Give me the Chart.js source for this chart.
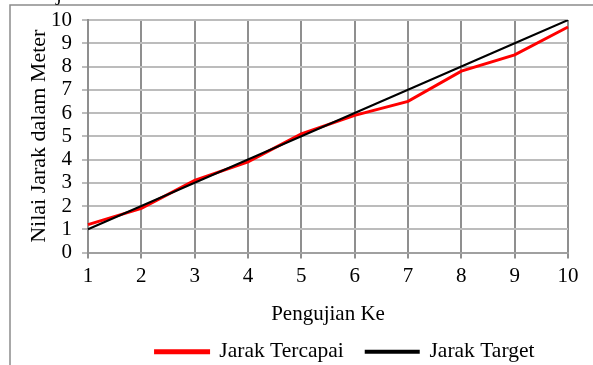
<!DOCTYPE html>
<html>
<head>
<meta charset="utf-8">
<script src="https://cdn.jsdelivr.net/npm/chart.js@4.4.0/dist/chart.umd.min.js"></script>
<style>
    html, body { margin: 0; padding: 0; background: #ffffff; }
    #contenedor { width: 593px; height: 365px; position: relative; }
</style>
</head>
<body>
<div id="contenedor"><canvas id="chart_jarak"></canvas></div>
<script>
pengujian_ke = ["1", "2", "3", "4", "5", "6", "7", "8", "9", "10"]
jarak_tercapai = [1.2, 1.9, 3.1, 3.9, 5.1, 5.9, 6.5, 7.8, 8.5, 9.7]
jarak_target = [1, 2, 3, 4, 5, 6, 7, 8, 9, 10]
y_min = 0
y_max = 10

// frame of the original figure (top + left edge, rest is cut off)
frame_plugin = {
    id: "frame_plugin",
    beforeDraw(chart) {
        ctx = chart.ctx
        ctx.save()
        ctx.strokeStyle = "#8c8c8c"
        ctx.lineWidth = 1.5
        ctx.beginPath()
        ctx.moveTo(10, 366)
        ctx.lineTo(10, 5)
        ctx.lineTo(594, 5)
        ctx.stroke()
        // cut off caption letter above the frame
        ctx.fillStyle = "#000"
        ctx.font = "21px 'Liberation Serif', 'Times New Roman', serif"
        ctx.textBaseline = "alphabetic"
        ctx.fillText("j", 56, 0)
        ctx.restore()
    }
}

// legend in the original sits a bit right of the plot centre
legend_shift = {
    id: "legend_shift",
    afterLayout(chart) {
        chart.legend.left += 17
        chart.legend.right += 17
    }
}

function create_chart() {
    Chart.defaults.font.family = "'Liberation Serif', 'Times New Roman', serif"
    Chart.defaults.font.size = 21
    Chart.defaults.color = "#000000"

    chart = document.querySelector("#chart_jarak")
    new Chart(chart, {
        type: "line",
        data: {
            labels: pengujian_ke,
            datasets: [
                {
                    label: "Jarak Tercapai",
                    data: jarak_tercapai,
                    borderColor: "#ff0000",
                    backgroundColor: "#ff0000",
                    borderWidth: 3,
                    order: 1
                },
                {
                    label: "Jarak Target",
                    data: jarak_target,
                    borderColor: "#000000",
                    backgroundColor: "#000000",
                    borderWidth: 2,
                    order: 0
                }
            ]
        },
        options: {
            responsive: true,
            maintainAspectRatio: false,
            animation: false,
            devicePixelRatio: 1,
            layout: {
                padding: { top: 20, right: 25, left: 0, bottom: -7.5 }
            },
            elements: {
                point: { radius: 0 },
                line: { tension: 0 }
            },
            scales: {
                x: {
                    offset: false,
                    afterFit(scale) {
                        scale.height = 66.5
                    },
                    grid: {
                        offset: false,
                        color: "#8f8f8f",
                        lineWidth: 2,
                        tickLength: 6,
                        tickColor: "#8f8f8f"
                    },
                    border: { color: "#a0a0a0", width: 2 },
                    ticks: { padding: 5, maxRotation: 0, autoSkip: false },
                    title: {
                        display: true,
                        text: "Pengujian Ke",
                        padding: { top: 13, bottom: -8 }
                    }
                },
                y: {
                    min: y_min,
                    max: y_max,
                    afterFit(scale) {
                        scale.width = 88
                    },
                    grid: {
                        color: "#bcbcbc",
                        lineWidth: 2,
                        tickLength: 6,
                        tickColor: "#bcbcbc"
                    },
                    border: { color: "#8f8f8f", width: 2 },
                    ticks: {
                        stepSize: 1,
                        padding: 10,
                        autoSkip: false,
                        font: { size: 21, lineHeight: 0.9 }
                    },
                    title: {
                        display: true,
                        text: "Nilai Jarak dalam Meter",
                        font: { size: 22 },
                        padding: { top: 26, bottom: 0 }
                    }
                }
            },
            plugins: {
                tooltip: { enabled: false },
                legend: {
                    display: true,
                    position: "bottom",
                    fullSize: false,
                    labels: {
                        boxWidth: 53,
                        boxHeight: 2,
                        padding: 22,
                        font: { size: 21.5 },
                        sort: (a, b) => a.datasetIndex - b.datasetIndex
                    }
                }
            }
        },
        plugins: [frame_plugin, legend_shift]
    })
}

create_chart()
</script>
</body>
</html>
